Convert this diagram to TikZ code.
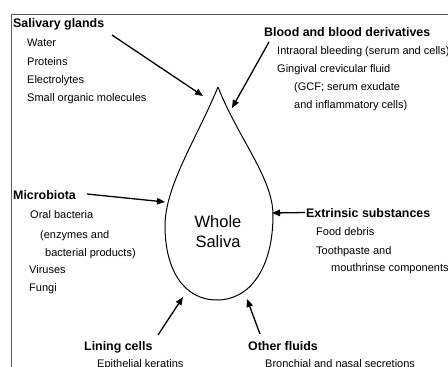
\documentclass[tikz,border=0pt]{standalone}
\usepackage{fontspec}
\setmainfont{Liberation Sans}
\usetikzlibrary{arrows.meta,positioning}

\begin{document}
\begin{tikzpicture}[x=1pt,y=-1pt,>={Triangle[length=8pt,width=6.5pt]},
  grp/.style={anchor=base west,inner sep=0pt,font=\fontsize{12.4}{14}\selectfont\bfseries},
  entry/.style={anchor=base west,inner sep=0pt,font=\fontsize{11}{13}\selectfont},
  feed/.style={->,line width=1.3pt}]
\useasboundingbox (0,0) rectangle (448,367);
\draw[gray!70!black,line width=0.9pt] (11,370) -- (11,14) -- (450,14);
% the drop
\draw[line width=1pt] (218,87) .. controls (238,138) and (273,178) .. (273,215)
  .. controls (273,268) and (250,300) .. (217,300)
  .. controls (184,300) and (165,270) .. (165,226)
  .. controls (165,186) and (196,140) .. (218,87);
\node[font=\fontsize{16.5}{20}\selectfont,align=center] (ws) at (218,232) {Whole\\Saliva};
% salivary glands
\node[grp] (sal) at (13,27.5) {Salivary glands};
\node[entry] (sal1) at (27,46.5) {Water};
\node[entry] (sal2) at (27,65) {Proteins};
\node[entry] (sal3) at (27,83.5) {Electrolytes};
\node[entry] (sal4) at (27,101.5) {Small organic molecules};
% blood
\node[grp] (bld) at (264,36) {Blood and blood derivatives};
\node[entry] (bld1) at (277,54.5) {Intraoral bleeding (serum and cells)};
\node[entry] (bld2) at (277,72.5) {Gingival crevicular fluid};
\node[entry] (bld3) at (294,90.5) {(GCF; serum exudate};
\node[entry] (bld4) at (294,108) {and inflammatory cells)};
% microbiota
\node[grp] (mic) at (13,199) {Microbiota};
\node[entry] (mic1) at (30,218) {Oral bacteria};
\node[entry] (mic2) at (40,238) {(enzymes and};
\node[entry] (mic3) at (45,256) {bacterial products)};
\node[entry] (mic4) at (29,273.5) {Viruses};
\node[entry] (mic5) at (29,291.5) {Fungi};
% extrinsic substances
\node[grp] (ext) at (306,217) {Extrinsic substances};
\node[entry] (ext1) at (316,235) {Food debris};
\node[entry] (ext2) at (316,254) {Toothpaste and};
\node[entry] (ext3) at (331,271.5) {mouthrinse components};
% lining cells, other fluids
\node[grp] (lin) at (84,350) {Lining cells};
\node[entry] (lin1) at (97,367) {Epithelial keratins};
\node[grp] (oth) at (248,350) {Other fluids};
\node[entry] (oth1) at (265,367) {Bronchial and nasal secretions};
% arrow ends
\coordinate (salA) at (112,35);   \coordinate (salB) at (203,96);
\coordinate (bldA) at (269,42);   \coordinate (bldB) at (232,108);
\coordinate (micA) at (87,194);   \coordinate (micB) at (165,202);
\coordinate (extA) at (305,212.5);\coordinate (extB) at (272,213);
\coordinate (linA) at (158,335);  \coordinate (linB) at (183,297);
\coordinate (othA) at (260,334);  \coordinate (othB) at (247,299);
\draw[feed] (salA) -- (salB);
\draw[feed] (bldA) -- (bldB);
\draw[feed] (micA) -- (micB);
\draw[feed] (extA) -- (extB);
\draw[feed] (linA) -- (linB);
\draw[feed] (othA) -- (othB);
\end{tikzpicture}
\end{document}
